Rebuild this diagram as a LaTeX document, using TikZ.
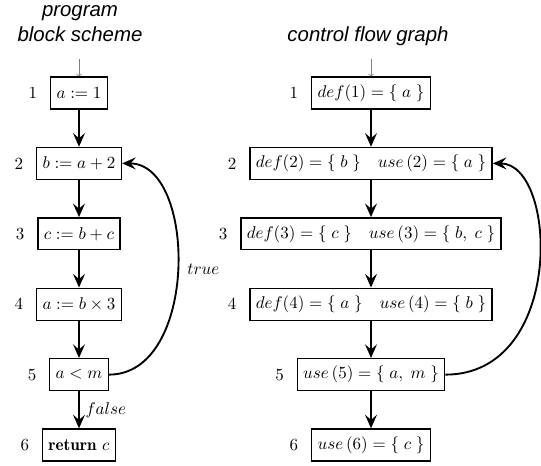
\documentclass[tikz,border=0pt]{standalone}
\usepackage{amsmath,amssymb}
\usepackage{fontspec}
\newfontfamily\headfont{Liberation Sans}
\usepackage{tikz}
\usetikzlibrary{arrows.meta,positioning}

\begin{document}
\begin{tikzpicture}[
    x=0.588pt, y=-0.588pt,
    node distance=21.8pt,
    box/.style={draw, thick, minimum height=18.8pt, inner xsep=3.5pt},
    arr/.style={-{Stealth[length=8pt, width=7pt, inset=3pt]}, line width=1.1pt},
    entry/.style={-{To[length=1.5pt]}, gray, thin},
    title/.style={font=\headfont\itshape\fontsize{12}{14.75}\selectfont, align=center}
]
\useasboundingbox (0,0) rectangle (541,466);

% titles
\node[title, anchor=base] (tprog) at (80,41.7) {program\\block scheme};
\node[title, anchor=base] (tcfg) at (368,41.7) {control flow graph};

% program block scheme
\node[box] (b1) at (79,93) {$a := 1$};
\node[box, below=of b1] (b2) {$b := a + 2$};
\node[box, below=of b2] (b3) {$c := b + c$};
\node[box, below=of b3] (b4) {$a := b \times 3$};
\node[box, below=of b4] (b5) {$a < m$};
\node[box, below=of b5] (b6) {$\mathbf{return}\ c$};

\node[left=4pt of b1] (nb1) {1};
\node[left=4pt of b2] (nb2) {2};
\node[left=4pt of b3] (nb3) {3};
\node[left=4pt of b4] (nb4) {4};
\node[left=4pt of b5] (nb5) {5};
\node[left=4pt of b6] (nb6) {6};

\coordinate[above=10pt of b1] (inb);
\draw[entry] (inb) -- (b1);
\draw[arr] (b1) -- (b2);
\draw[arr] (b2) -- (b3);
\draw[arr] (b3) -- (b4);
\draw[arr] (b4) -- (b5);
\draw[arr] (b5) -- (b6) node[midway, right=0pt] (lfalse) {$false$};
\draw[arr] (b5.east) .. controls +(90,0) and +(75,0) .. (b2.east)
    node[pos=0.5, right=2pt] (ltrue) {$true$};

% control flow graph
\node[box] (g1) at (371,93) {$def(1) = \{\; a\;\}$};
\node[box, below=of g1] (g2) {$def(2) = \{\; b\;\}\quad use\,(2) = \{\; a\;\}$};
\node[box, below=of g2] (g3) {$def(3) = \{\; c\;\}\quad use\,(3) = \{\; b,\; c\;\}$};
\node[box, below=of g3] (g4) {$def(4) = \{\; a\;\}\quad use\,(4) = \{\; b\;\}$};
\node[box, below=of g4] (g5) {$use\,(5) = \{\; a,\; m\;\}$};
\node[box, below=of g5] (g6) {$use\,(6) = \{\; c\;\}$};

\node[left=4pt of g1] (ng1) {1};
\node[left=4pt of g2] (ng2) {2};
\node[left=4pt of g3] (ng3) {3};
\node[left=4pt of g4] (ng4) {4};
\node[left=4pt of g5] (ng5) {5};
\node[left=4pt of g6] (ng6) {6};

\coordinate[above=10pt of g1] (ing);
\draw[entry] (ing) -- (g1);
\draw[arr] (g1) -- (g2);
\draw[arr] (g2) -- (g3);
\draw[arr] (g3) -- (g4);
\draw[arr] (g4) -- (g5);
\draw[arr] (g5) -- (g6);
\draw[arr] (g5.east) .. controls +(120,0) and +(65,0) .. (g2.east);
\end{tikzpicture}
\end{document}
